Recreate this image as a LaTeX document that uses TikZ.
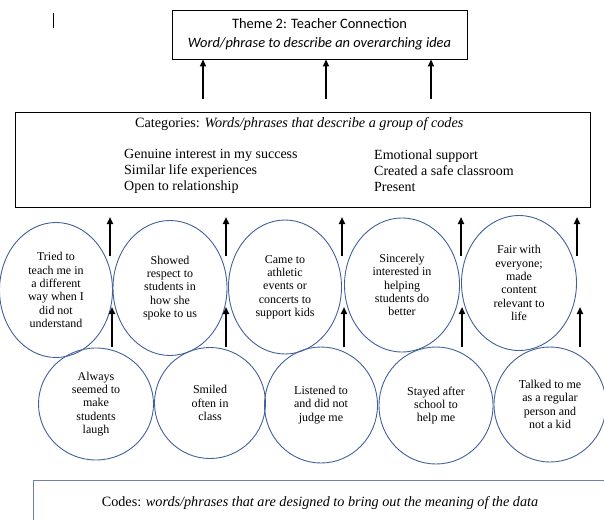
\documentclass[tikz,border=0pt]{standalone}
\usepackage{fontspec}
\setmainfont{Liberation Serif}
\newfontfamily\calibri{Carlito}
\usetikzlibrary{shapes.geometric,arrows.meta}
\definecolor{codeblue}{RGB}{66,96,156}
\definecolor{codeedge}{RGB}{110,130,165}
\tikzset{
  codeoval/.style={ellipse, draw=codeblue, line width=0.9pt, inner sep=0pt, align=center,
    font=\fontsize{12}{13.3}\selectfont},
  catbox/.style={draw, line width=0.9pt, inner sep=0pt},
  uparrow/.style={-{Triangle[length=7pt,width=6pt]}, line width=1.8pt}
}
\begin{document}
\begin{tikzpicture}[x=1pt,y=-1pt]
			\useasboundingbox (0,0) rectangle (604,519);
			\clip (0,0) rectangle (604,519);

			% Theme
			\draw[line width=0.6pt] (53,13) -- (53,28);
			\node[catbox, minimum width=295pt, minimum height=49pt, align=center,
			  font=\calibri\fontsize{14.4}{19}\selectfont] (theme) at (319.5,34.5)
			  {Theme 2: Teacher Connection\\\itshape Word/phrase to describe an overarching idea};

			% Categories
			\node[catbox, minimum width=575pt, minimum height=95pt] (cats) at (302.5,159.5) {};
			\node[font=\fontsize{14.2}{16}\selectfont, anchor=west, inner sep=0pt] (catstitle) at (135,124)
			  {Categories: \textit{Words/phrases that describe a group of codes}};
			\node[font=\fontsize{14}{16}\selectfont, align=left, anchor=west, inner sep=0pt] (catsleft) at (124,171)
			  {Genuine interest in my success\\Similar life experiences\\Open to relationship};
			\node[font=\fontsize{14}{16}\selectfont, align=left, anchor=west, inner sep=0pt] (catsright) at (374,171)
			  {Emotional support\\Created a safe classroom\\Present};

			% Codes, top row
			\node[codeoval, minimum width=113pt, minimum height=135pt] (c1) at (56,290)
			  {Tried to\\teach me in\\a different\\way when I\\did not\\understand};
			\node[codeoval, minimum width=114pt, minimum height=135pt] (c2) at (170,288)
			  {Showed\\respect to\\students in\\how she\\spoke to us};
			\node[codeoval, minimum width=113pt, minimum height=134pt] (c3) at (285,287)
			  {Came to\\athletic\\events or\\concerts to\\support kids};
			\node[codeoval, minimum width=115pt, minimum height=134pt] (c4) at (402,285)
			  {Sincerely\\interested in\\helping\\students do\\better};
			\node[codeoval, minimum width=115pt, minimum height=135pt] (c5) at (519,283)
			  {Fair with\\everyone;\\made\\content\\relevant to\\life};

			% Codes, bottom row
			\node[codeoval, minimum width=115pt, minimum height=112pt] (d1) at (96,404)
			  {Always\\seemed to\\make\\students\\laugh};
			\node[codeoval, minimum width=111pt, minimum height=111pt] (d2) at (210,403)
			  {Smiled\\often in\\class};
			\node[codeoval, minimum width=113pt, minimum height=116pt] (d3) at (321,405)
			  {Listened to\\and did not\\judge me};
			\node[codeoval, minimum width=114pt, minimum height=117pt] (d4) at (436,405.5)
			  {Stayed after\\school to\\help me};
			\node[codeoval, minimum width=112pt, minimum height=115pt] (d5) at (550,404.5)
			  {Talked to me\\as a regular\\person and\\not a kid};

			% Codes box
			\node[draw=codeedge, line width=0.9pt, minimum width=620pt, minimum height=80pt,
			  anchor=north west] (codes) at (33,480) {};
			\node[font=\fontsize{14.2}{16}\selectfont] (codestitle) at (320,503)
			  {Codes: \textit{words/phrases that are designed to bring out the meaning of the data}};

			% Arrows
			\foreach \x [count=\i] in {203,326,431} {
			  \coordinate (t\i) at (\x,99);
			  \draw[uparrow] (t\i) -- (t\i |- theme.south);
			}
			\foreach \x [count=\i] in {110,226,342,461,577} {
			  \coordinate (u\i) at (\x,256);
			  \coordinate (v\i) at (\x,217);
			  \draw[uparrow] (u\i) -- (v\i);
			}
			\foreach \x [count=\i] in {112,226,344,462,580} {
			  \coordinate (p\i) at (\x,347);
			  \coordinate (q\i) at (\x,307);
			  \draw[uparrow] (p\i) -- (q\i);
			}
		\end{tikzpicture}
\end{document}
